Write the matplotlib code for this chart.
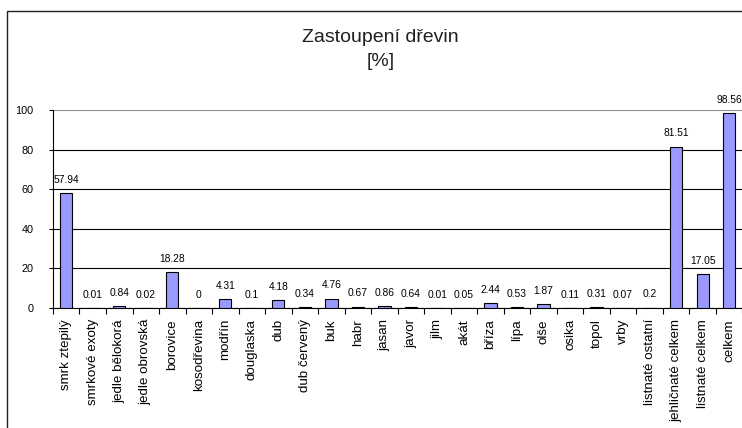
import matplotlib
matplotlib.use("Agg")
import matplotlib.pyplot as plt
from matplotlib.patches import Rectangle
from matplotlib.ticker import FixedLocator

plt.rcParams['font.family'] = ['Liberation Sans', 'DejaVu Sans']

# Data
dreviny = ["smrk ztepilý", "smrkové exoty", "jedle bělokorá", "jedle obrovská",
           "borovice", "kosodřevina", "modřín", "douglaska", "dub", "dub červený",
           "buk", "habr", "jasan", "javor", "jilm", "akát", "bříza", "lípa",
           "olše", "osika", "topol", "vrby", "listnaté ostatní",
           "jehličnaté celkem", "listnaté celkem", "celkem"]
zastoupeni = [57.94, 0.01, 0.84, 0.02, 18.28, 0, 4.31, 0.1, 4.18, 0.34,
              4.76, 0.67, 0.86, 0.64, 0.01, 0.05, 2.44, 0.53, 1.87, 0.11,
              0.31, 0.07, 0.2, 81.51, 17.05, 98.56]
y_ticks = [0, 20, 40, 60, 80, 100]

fig = plt.figure(figsize=(7.42, 4.28), dpi=100)
ax = fig.add_axes([0.0714, 0.2804, 0.9292, 0.4626])

x = list(range(len(dreviny)))
ax.bar(x, zastoupeni, width=0.46, color="#9999FF", edgecolor="black",
       linewidth=0.8, zorder=3)

# value labels above bars
for xi, v in zip(x, zastoupeni):
    ax.annotate(f"{v:g}", (xi, v), xytext=(0, 9.5), textcoords="offset points",
                ha="center", va="center", fontsize=7.4, zorder=4)

ax.set_xlim(-0.5, len(dreviny) - 0.5)
ax.set_ylim(0, 100)
ax.set_yticks(y_ticks)
ax.tick_params(axis="y", labelsize=7.8, length=3, width=0.8, pad=11,
               direction="out")

ax.set_xticks(x)
ax.set_xticklabels(dreviny, rotation=90, fontsize=9.6)
ax.tick_params(axis="x", which="major", length=0, pad=8)
ax.xaxis.set_minor_locator(FixedLocator([i - 0.5 for i in range(len(dreviny) + 1)]))
ax.tick_params(axis="x", which="minor", length=4, width=0.8, direction="out")

# gridlines
ax.grid(axis="y", color="black", linewidth=0.8, zorder=1)
ax.set_axisbelow(True)
ax.get_ygridlines()[-1].set_color("#909090")

for side in ["top", "right"]:
    ax.spines[side].set_visible(False)
ax.spines["left"].set_linewidth(0.8)
ax.spines["bottom"].set_linewidth(0.8)

# title
fig.text(0.513, 1 - 37.5 / 428, "Zastoupení dřevin", ha="center", va="center",
         fontsize=14, color="#202020")
fig.text(0.513, 1 - 62 / 428, "[%]", ha="center", va="center", fontsize=14,
         color="#202020")

# chart area border
fig.patches.append(Rectangle((6.5 / 742, -0.1), 1.2, 1.1 - 10.5 / 428,
                             transform=fig.transFigure, fill=False,
                             edgecolor="#202020", linewidth=1.0))

fig.savefig("out.png", dpi=100)
